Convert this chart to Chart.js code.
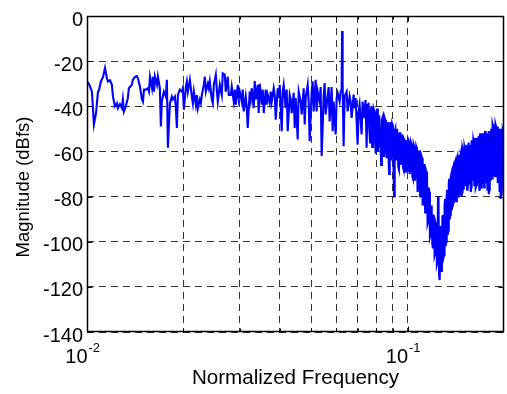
<!DOCTYPE html>
<html><head><meta charset="utf-8">
<script src="https://cdn.jsdelivr.net/npm/chart.js@4/dist/chart.umd.min.js"></script>
<style>html,body{margin:0;padding:0;background:#fff}</style>
</head><body>
<canvas id="c" width="507" height="394"></canvas>
<script>
// ---- data (normalized frequency, magnitude in dBfs) ----
const freqs = [
0.01000,0.01014,0.01036,0.01051,0.01067,0.01082,0.01090,0.01105,0.01122,0.01138,
0.01154,0.01162,0.01179,0.01196,0.01205,0.01222,0.01240,0.01249,0.01267,0.01285,
0.01294,0.01304,0.01322,0.01332,0.01341,0.01351,0.01380,0.01390,0.01411,0.01431,
0.01442,0.01463,0.01484,0.01495,0.01506,0.01527,0.01549,0.01561,0.01572,0.01595,
0.01606,0.01618,
0.01629,0.01653,0.01664,0.01688,0.01700,0.01712,0.01737,0.01762,0.01775,0.01788,
0.01814,0.01840,0.01853,0.01880,0.01894,0.01907,0.01921,0.01949,0.01977,0.01991,
0.02006,0.02035,0.02049,0.02064,0.02094,0.02124,0.02139,0.02155,0.02186,0.02202,
0.02218,0.02249,0.02266,0.02282,0.02315,0.02332,0.02349,0.02383,0.02400,0.02416,
0.02451,0.02469,0.02487,0.02523,0.02541,0.02559,0.02596,0.02633,0.02652,0.02691,
0.02710,0.02749,0.02769,
0.02809,0.02829,0.02870,0.02891,0.02912,0.02954,0.02975,0.02996,0.03039,0.03061,
0.03083,0.03128,0.03150,0.03173,0.03219,0.03242,0.03265,0.03312,0.03336,0.03360,
0.03409,0.03433,0.03459,0.03509,0.03534,0.03560,0.03611,0.03637,0.03663,0.03716,
0.03743,0.03770,0.03824,0.03852,0.03880,0.03936,0.03964,0.03993,0.04050,0.04080,
0.04109,0.04168,0.04198,0.04229,0.04290,0.04321,0.04352,0.04415,0.04446,0.04478,
0.04543,0.04576,
0.04642,0.04676,0.04743,0.04778,0.04812,0.04882,0.04916,0.04951,0.05023,0.05059,
0.05095,0.05169,0.05206,0.05244,0.05320,0.05358,0.05397,0.05475,0.05514,0.05554,
0.05634,0.05675,0.05715,0.05798,0.05840,0.05882,0.05967,0.06010,0.06053,0.06140,
0.06184,0.06229,0.06250,0.06274,0.06319,0.06365,0.06457,0.06504,0.06597,0.06645,
0.06693,0.06790,0.06839,0.06888,0.06988,0.07038,0.07088,0.07191,0.07242,0.07294,
0.07400,0.07453,0.07507,
0.0756,0.0760,0.0764,0.0768,0.0772,0.0776,0.0780,0.0784,0.0788,0.0792,
0.0796,0.0800,0.0804,0.0808,0.0812,0.0816,0.0820,0.0824,0.0828,0.0832,
0.0836,0.0840,0.0844,0.0848,0.0852,0.0856,0.0860,0.0864,0.0868,0.0872,
0.0876,0.0880,0.0884,0.0888,0.0892,0.0896,0.0900,0.0904,0.0908,0.0912,
0.0916,0.0920,0.0924,0.0928,0.0932,0.0936,0.0940,0.0944,0.0948,0.0952,
0.0956,0.0960,0.0964,0.0968,0.0972,0.0976,0.0980,0.0984,0.0988,0.0992,
0.0996,
0.1000,0.1005,0.1010,0.1015,0.1020,0.1025,0.1030,0.1035,0.1040,0.1045,
0.1050,0.1055,0.1060,0.1065,0.1070,0.1075,0.1080,0.1085,0.1090,0.1095,
0.1100,0.1105,0.1110,0.1115,0.1120,0.1125,0.1130,0.1135,0.1140,0.1145,
0.1150,0.1155,0.1160,0.1165,0.1170,0.1175,0.1180,0.1185,0.1190,0.1195,
0.1200,0.1205,0.1210,0.1215,0.1220,0.1225,0.1230,0.1235,0.1240,0.1245,
0.1250,0.1255,0.1260,0.1265,0.1270,0.1275,0.1280,0.1285,0.1290,0.1295,
0.1300,
0.1305,0.1310,0.1315,0.1320,0.1325,0.1330,0.1335,0.1340,0.1345,0.1350,
0.1355,0.1360,0.1365,0.1370,0.1375,0.1380,0.1385,0.1390,0.1395,0.1400,
0.1405,0.1410,0.1415,0.1420,0.1425,0.1430,0.1435,0.1440,0.1445,0.1450,
0.1455,0.1460,0.1465,0.1470,0.1475,0.1480,0.1485,0.1490,0.1495,0.1500,
0.1505,0.1510,0.1515,0.1520,0.1525,0.1530,0.1535,0.1540,0.1545,0.1550,
0.1555,0.1560,0.1565,0.1570,0.1575,0.1580,0.1585,0.1590,0.1595,0.1600,
0.1605,0.1610,0.1615,0.1620,0.1625,0.1630,0.1635,0.1640,0.1645,0.1650,
0.1655,0.1660,0.1665,0.1670,0.1675,0.1680,0.1685,0.1690,0.1695,0.1700,
0.1705,0.1710,0.1715,0.1720,0.1725,0.1730,0.1735,0.1740,0.1745,0.1750,
0.1755,0.1760,0.1765,0.1770,0.1775,0.1780,0.1785,0.1790,0.1795,0.1800,
0.1805,0.1810,0.1815,0.1820,0.1825,0.1830,0.1835,0.1840,0.1845,0.1850,
0.1855,0.1860,0.1865,0.1870,0.1875,0.1880,0.1885,0.1890,0.1895,0.1900,
0.1905,0.1910,0.1915,0.1920,0.1925,0.1930,0.1935,0.1940,0.1945,0.1950,
0.1955,0.1960,0.1965,0.1970,0.1975,0.1980,0.1985,0.1990,0.1995,0.2000
];
const magnitudes = [
-29,-30,-33.5,-48,-43,-33.5,-33,-29,-27,-23,
-27.6,-29,-28.5,-30.5,-35.7,-40,-38.6,-40.8,-39,-40.8,
-37,-42.3,-40,-38,-36.4,-32,-30.5,-28.3,-27,-26.6,
-27.6,-31.3,-37,-38,-32.6,-32.6,-32,-33.5,-27,-32,
-27,-33.5,
-26.9,-30.5,-26.9,-32,-48.9,-37.9,-33.5,-35.7,-28.3,-58.4,
-38.6,-35.7,-37,-35.7,-40.8,-49.6,-35,-32.6,-33.5,-32,
-41.5,-31.3,-29,-33.5,-28.3,-35.7,-38.6,-33.5,-39.3,-35,
-40.8,-37,-38.6,-35,-30.5,-26.9,-33.5,-30,-32,-29,
-37,-38.6,-30.5,-26,-32.6,-37.9,-30.5,-35,-25.4,-26,
-33.5,-26.9,-35,
-35,-31.3,-37.9,-32.6,-39.3,-30.5,-36.4,-33.5,-37.9,-32.6,
-42.3,-35.7,-40,-49.6,-33.5,-37,-32,-40.8,-28.8,-37,
-30.5,-43,-30,-39.3,-32.6,-43,-32.6,-39.3,-35,-38.6,
-33.5,-37.9,-32,-35,-45.9,-32,-36.4,-30.5,-51,-33.5,
-30.5,-40.8,-32.6,-51,-35,-37,-43,-34,-49.6,-36.4,
-54.7,-33.5,
-37.9,-43.6,-32,-48.1,-36.4,-30.5,-37.9,-55.5,-33.5,-29,
-42.3,-28.3,-42.3,-33.5,-38,-31.5,-62,-35.5,-29.7,-43.6,
-35.5,-31.5,-46.7,-31.5,-51,-37.9,-52.5,-36.4,-34.2,-37.9,
-33.5,-32.5,-6.7,-29.5,-57.7,-35.5,-33.5,-42.3,-35.5,-37.9,
-45.2,-34.8,-40.8,-36.4,-57,-42.3,-39.3,-52.5,-37.9,-45.2,
-37.2,-58.4,-39.3,
-39,-50,-56,-42,-40,-58,-52,-41,-42,-55,
-61,-43,-41,-60,-57,-44,-44,-58,-66,-46,
-45,-62,-58,-45,-46,-59,-63,-48,-47,-61,
-70,-49,-47,-64,-60,-48,-49,-66,-80,-51,
-50,-62,-64,-50,-50,-67,-68,-52,-52,-66,
-62,-53,-53,-67,-68,-54,-54,-69,-65,-55,
-55,
-69,-55,-56,-70,-68,-56,-57,-71,-72,-57,
-58,-73,-70,-58,-59,-78,-76,-60,-60,-80,
-79,-62,-63,-84,-82,-66,-66,-87,-86,-69,
-70,-92,-91,-76,-78,-98,-97,-84,-86,-101,
-103,-88,-90,-106,-105,-92,-93,-110,-109,-80,
-86,-115,-117,-93,-95,-113,-112,-89,-88,-107,
-106,
-84,-81,-102,-100,-80,-77,-97,-95,-74,-72,
-90,-88,-71,-70,-86,-84,-68,-67,-83,-81,
-66,-65,-80,-82,-64,-63,-79,-80,-62,-62,
-77,-79,-61,-60,-80,-78,-59,-60,-76,-77,
-58,-59,-75,-74,-58,-57,-77,-76,-57,-56,
-74,-73,-57,-58,-78,-76,-55,-56,-73,-72,
-55,-56,-75,-74,-54,-55,-76,-75,-55,-54,
-74,-73,-53,-54,-77,-75,-52,-53,-75,-76,
-53,-52,-73,-74,-52,-53,-76,-74,-51,-52,
-74,-72,-53,-52,-77,-75,-52,-51,-79,-77,
-51,-52,-73,-72,-50,-51,-72,-71,-48,-49,
-70,-71,-49,-48,-71,-69,-48,-49,-68,-70,
-50,-49,-74,-72,-51,-50,-78,-76,-50,-51,
-81,-79,-52,-51,-73,-74,-51,-52,-70,-72
];
const xGridValues = [0.01,0.02,0.03,0.04,0.05,0.06,0.07,0.08,0.09,0.1];
const xMajorValues = [0.01, 0.1];
const xMajorLabels = [['10','-2'], ['10','-1']];
const yTickValues = [-140,-120,-100,-80,-60,-40,-20,0];
const xTitle = 'Normalized Frequency';
const yTitle = 'Magnitude (dBfs)';

const FONT = '"Liberation Sans", Arial, Helvetica, sans-serif';

const points = freqs.map((f, i) => ({x: f, y: magnitudes[i]}));

const decor = {
  id: 'decor',
  afterDraw(chart) {
    const ctx = chart.ctx;
    const ca = chart.chartArea;
    const xs = chart.scales.x, ys = chart.scales.y;
    const L = Math.round(ca.left) + 0.5, R = Math.round(ca.right) - 0.5;
    const T = Math.round(ca.top) + 0.5, B = Math.round(ca.bottom) - 0.5;
    ctx.save();
    ctx.strokeStyle = '#000';
    ctx.lineWidth = 1.5;
    ctx.setLineDash([]);
    ctx.strokeRect(L, T, R - L, B - T);
    ctx.lineWidth = 1;
    ctx.beginPath();
    yTickValues.forEach(v => {
      const y = Math.round(ys.getPixelForValue(v)) + 0.5;
      ctx.moveTo(L, y); ctx.lineTo(L + 5, y);
      ctx.moveTo(R, y); ctx.lineTo(R - 5, y);
    });
    xGridValues.forEach(v => {
      const x = Math.round(xs.getPixelForValue(v)) + 0.5;
      const len = xMajorValues.includes(v) ? 5 : 3;
      ctx.moveTo(x, B); ctx.lineTo(x, B - len);
      ctx.moveTo(x, T); ctx.lineTo(x, T + len);
    });
    ctx.stroke();
    // x tick labels with superscript exponents
    ctx.fillStyle = '#000';
    xMajorValues.forEach((v, i) => {
      const x = xs.getPixelForValue(v);
      ctx.font = '20px ' + FONT;
      ctx.textAlign = 'right';
      ctx.textBaseline = 'alphabetic';
      ctx.fillText(xMajorLabels[i][0], x + 0.5, 363);
      ctx.font = '13px ' + FONT;
      ctx.textAlign = 'left';
      ctx.fillText(xMajorLabels[i][1], x + 1.5, 352);
    });
    // y axis title
    ctx.translate(24, 187);
    ctx.rotate(-Math.PI / 2);
    ctx.font = '18.5px ' + FONT;
    ctx.textAlign = 'center';
    ctx.textBaseline = 'middle';
    ctx.fillText(yTitle, 0, 0);
    ctx.restore();
  }
};

new Chart(document.getElementById('c'), {
  type: 'line',
  data: {
    datasets: [{
      data: points,
      borderColor: '#0000ff',
      borderWidth: 2.1,
      pointRadius: 0,
      fill: false,
      tension: 0,
      borderJoinStyle: 'miter'
    }]
  },
  options: {
    responsive: false,
    animation: false,
    devicePixelRatio: 1,
    layout: {padding: {top: 14, right: 3, left: 0, bottom: 0}},
    plugins: {legend: {display: false}, tooltip: {enabled: false}},
    scales: {
      x: {
        type: 'logarithmic',
        min: 0.01,
        max: 0.2,
        afterBuildTicks(scale) { scale.ticks = xGridValues.map(v => ({value: v})); },
        afterFit(scale) { scale.height = 62; },
        ticks: {display: false},
        grid: {color: '#333', lineWidth: 1, drawTicks: false},
        border: {display: false, dash: [7, 5]},
        title: {display: true, text: xTitle, color: '#000',
                font: {family: FONT, size: 20.6}, padding: {top: 0, bottom: 3}}
      },
      y: {
        type: 'linear',
        min: -140,
        max: 0,
        afterBuildTicks(scale) { scale.ticks = yTickValues.map(v => ({value: v})); },
        afterFit(scale) { scale.width = 87; },
        ticks: {color: '#000', font: {family: FONT, size: 20}, padding: 4, labelOffset: 4},
        grid: {color: '#333', lineWidth: 1, drawTicks: false},
        border: {display: false, dash: [7, 5]}
      }
    }
  },
  plugins: [decor]
});
</script>
</body></html>
